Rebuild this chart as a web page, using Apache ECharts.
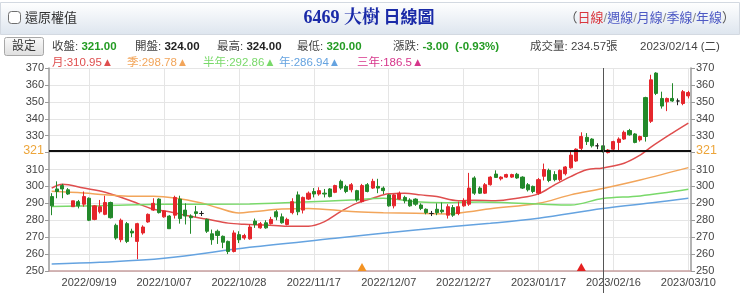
<!DOCTYPE html>
<html><head><meta charset="utf-8">
<script src="https://cdn.jsdelivr.net/npm/echarts@6/dist/echarts.min.js"></script>
<style>html,body{margin:0;padding:0;background:#fff}#c{width:740px;height:293px}</style>
</head><body><div id="c"></div>
<script>
// ---------- data ----------
const dates = [
'2022/09/07','2022/09/08','2022/09/12','2022/09/13','2022/09/14','2022/09/15','2022/09/16',
'2022/09/19','2022/09/20','2022/09/21','2022/09/22','2022/09/23','2022/09/26','2022/09/27','2022/09/28','2022/09/29','2022/09/30',
'2022/10/03','2022/10/04','2022/10/05','2022/10/06','2022/10/07','2022/10/11','2022/10/12','2022/10/13','2022/10/14',
'2022/10/17','2022/10/18','2022/10/19','2022/10/20','2022/10/21','2022/10/24','2022/10/25','2022/10/26','2022/10/27','2022/10/28',
'2022/10/31','2022/11/01','2022/11/02','2022/11/03','2022/11/04','2022/11/07','2022/11/08','2022/11/09','2022/11/10','2022/11/11',
'2022/11/14','2022/11/15','2022/11/16','2022/11/17','2022/11/18','2022/11/21','2022/11/22','2022/11/23','2022/11/24','2022/11/25',
'2022/11/28','2022/11/29','2022/11/30','2022/12/01','2022/12/02','2022/12/05','2022/12/06','2022/12/07','2022/12/08','2022/12/09',
'2022/12/12','2022/12/13','2022/12/14','2022/12/15','2022/12/16','2022/12/19','2022/12/20','2022/12/21','2022/12/22','2022/12/23',
'2022/12/26','2022/12/27','2022/12/28','2022/12/29','2022/12/30','2023/01/03','2023/01/04','2023/01/05','2023/01/06',
'2023/01/09','2023/01/10','2023/01/11','2023/01/12','2023/01/13','2023/01/16','2023/01/17','2023/01/30','2023/01/31',
'2023/02/01','2023/02/02','2023/02/03','2023/02/06','2023/02/07','2023/02/08','2023/02/09','2023/02/10',
'2023/02/13','2023/02/14','2023/02/15','2023/02/16','2023/02/17','2023/02/20','2023/02/21','2023/02/22','2023/02/23','2023/02/24',
'2023/03/01','2023/03/02','2023/03/03','2023/03/06','2023/03/07','2023/03/08','2023/03/09','2023/03/10'
];
// [open, close, low, high]
const ohlc = [
[294,288.5,283,296],[298.5,297,293,303],[300.5,298.5,293,301.5],[298,295.5,295,299],[288,291.5,288,291.5],
[291,288.5,287,292],[289.5,294,288,297],[293,280,279.5,293.5],[280.5,288.5,280,289],[285,288,284,292],
[283.5,290.5,283,294.5],[290.5,281.5,281,291],[277,269.5,268.5,278],[268.5,280,267,281],[278,267.5,266.5,279],
[273.5,272.5,270,275],[267.5,278,257,278.5],[272.5,276,271.5,277],[279,283.5,278.5,284],[286,290,285.5,293],
[292.5,284.5,284,293],[282,285.5,281.5,286],[282.5,275,275,283],[283,293.5,281,294.5],[292.5,281,278,294.5],
[286,282.5,277.5,290],[282.5,281.5,272,283.5],[285,284,282,288.5],[284,284,282.5,285.5],[280.5,273.5,272.5,281],
[272,268.5,265.5,274.5],[273.5,271,266,274.5],[270.5,267,263.5,271],[267.5,261.5,260,268],[261.5,272.5,261,274],
[271.5,268.5,266.5,273.5],[269.5,271,268.5,272],[269,276,268.5,277.5],[279.5,277.5,275.5,281],[275.5,278,275,279],
[278.5,275.5,275,280],[278,280.5,277.5,282],[285,282,280,286],[282,278.5,278,284],[277.5,280.5,277,281.5],
[284.5,291,283.5,293],[295,285,283,297],[286,293.5,284,294],[292.5,296,292,297],[297,295.5,293.5,299],
[295.5,297.5,294.5,299.5],[296,295.5,293.5,298.5],[298.5,294,293.5,299],[296.5,300.5,296,301],[303,299,298,304],
[300,297,296,301],[298,301,296.5,302],[297.5,292,291,298],[291,300.5,290.5,301.5],[301,297,296.5,302],
[299,303,298.5,304.5],[300,299,296,304.5],[299,297.5,295.5,300],[295,288.5,288,295.5],[288.5,295,287,295.5],
[292.5,296,292,297],[293.5,291.5,290,294.5],[292,288.5,288,293],[292.5,289.5,288.5,293],[289,287,286,290],
[286.5,284.5,283.5,287],[284,284,282.5,285.5],[286.5,284.5,283,290],[286,285,284,290.5],[283,288,281,289.5],
[287.5,283,282,289],[284,288,283,291],[288.5,291.5,288,293],[289.5,299,288.5,308],[305,296,295,306],
[299,296,295.5,300],[296,301,295.5,302],[301,305.5,300.5,306],[307.3,305.3,305,309.5],[304.5,305.5,303.5,306],
[305.5,307,305,307.5],[305.5,307,305,307.5],[307.2,305,304.5,308],[305.5,299,298.5,306],[301,298,297,302],
[300,297,296,300.5],[296,304,295,305],[306,310,303.5,313.5],[309.5,303.5,302.5,310.5],[307,304,303,309],
[304,309.5,303,310],[307.5,311.5,306.5,312],[311,318.5,310.5,320.5],[315,322,314.5,322.5],[322.5,329.5,321.5,332],
[329,326.5,324.5,331.5],[328,324,323,328.5],[324,324,322,325.5],[324,321,320,324],[320,321.5,319.5,322],
[322,326.5,321,327],[326,328,321.5,329],[328,332,327.5,333],[333,330.5,330,334],[331,326,325.5,331.5],
[327.5,329.5,326.5,330],[352.5,329.5,326.5,353],[338.5,363,337.5,366],[367,355,354,367.5],[352,347.5,346,356],
[350,352,344.5,352.5],[352,350.5,350,361],[350.5,350.5,348,352],[349,356,348,357],[353.5,355.5,352,356.5]
];
// moving averages: [day index, value]
const maMonth = [[0,299],[2,301.3],[6,299],[10,296.5],[15,291.2],[19,286.5],[22,285],[26,282.3],[29,280.7],[33,278.3],[36,277.6],[40,277.2],[44,276.4],[48,276.5],[51,279.2],[54,285.1],[57,290],[60,293],[63,295.6],[66,296],[69,295],[72,294],[76,291.6],[79,291.8],[83,291.5],[87,293],[91,295.6],[94,300.9],[97,305.8],[100,309.8],[103,310.95],[107,313.7],[110,318.5],[112,323.2],[116,331.5],[119,337.4]];
const maQuarter = [[0,297.1],[6,296.1],[10,295.1],[15,294.2],[19,294.2],[23,293.2],[28,290.2],[31,287.4],[35,284.3],[38,285.2],[43,286.6],[48,287],[56,285.1],[62,284.5],[68,284.1],[74,283.7],[78,285],[82,286.8],[91,290],[97,295],[103,298.78],[110,303.8],[119,311.1]];
const maHalf = [[0,288.2],[9,288.6],[21,289.4],[37,289.6],[46,290.6],[56,292],[62,293],[68,291],[74,290.4],[80,290.8],[86,290.2],[91,289.6],[97,289],[103,292.86],[110,294.4],[119,298.3]];
const maYear = [[0,254.1],[9,255.1],[21,257.5],[37,264],[53,269.3],[68,274.3],[82,278.2],[91,281.2],[103,286.94],[113,290.6],[119,293]];
const xTickLabels = ['2022/09/19','2022/10/07','2022/10/28','2022/11/17','2022/12/07','2022/12/27','2023/01/17','2023/02/16','2023/03/10'];
const yMin = 250, yMax = 370, yStep = 10;
const selDate = '2023/02/14';
const refPrice = 321;
const volume = '234.57';
const eventDates = ['2022/11/30','2023/02/08'];
const legendNames = ['月','季','半年','年','三年'];
const legendValues = ['310.95','298.78','292.86','286.94','186.5'];

// ---------- chart ----------
const chart = echarts.init(document.getElementById('c'), null, {renderer:'canvas'});
const CJK = "'Liberation Sans','Noto Sans CJK TC',sans-serif";
const UP = '#e5262c', DOWN = '#23892a', DOJI = '#222';
const maColors = ['#df4e4e','#f2a55a','#79d96a','#65a3e0','#d6358b'];
const selIdx = dates.indexOf(selDate);
const sel = ohlc[selIdx], prev = ohlc[selIdx-1];
const chg = sel[1] - prev[1];
const pct = chg / prev[1] * 100;

const candleData = ohlc.map(r => r[0] === r[1]
  ? {value:r, itemStyle:{color:DOJI,color0:DOJI,borderColor:DOJI,borderColor0:DOJI}}
  : r);

const showTick = (i, v) => xTickLabels.indexOf(v) >= 0;

const G = (s,c,w) => ({fill:c, fontFamily:CJK, fontSize:s, fontWeight:w||'normal'});
const grn = '#239b23';
const hdr = [
  {type:'rect', shape:{x:0.5,y:2.5,width:739,height:32},
   style:{fill:new echarts.graphic.LinearGradient(0,0,0,1,[{offset:0,color:'#ffffff'},{offset:1,color:'#dde5ee'}]), stroke:'#d3d9e1'}},
  {type:'rect', shape:{x:8.5,y:11.5,width:12,height:12,r:3}, style:{fill:'#fff', stroke:'#6f6f6f', lineWidth:1}},
  {type:'text', x:25, y:18, style:{text:'還原權值', ...G(13,'#333'), verticalAlign:'middle'}},
  {type:'text', x:369, y:18, style:{text:'{a|6469 大樹} {b|日線圖}', align:'center', verticalAlign:'middle',
     rich:{a:{fill:'#1a2aa8', fontFamily:"'Liberation Serif','Noto Serif CJK TC','Noto Sans CJK TC',serif", fontSize:18, fontWeight:'bold'},
           b:{fill:'#1a2aa8', fontFamily:CJK, fontSize:17, fontWeight:'bold'}}}},
  {type:'text', x:735, y:18, style:{text:'{p|（}{r|日線}{s|/}{b|週線}{s|/}{b|月線}{s|/}{b|季線}{s|/}{b|年線}{p|）}', align:'right', verticalAlign:'middle',
     rich:{p:G(13,'#555'), r:G(13,'#d9363e'), s:G(13,'#888'), b:G(13,'#4d59c4')}}},
  {type:'rect', shape:{x:4.5,y:37.5,width:39,height:18,r:2},
   style:{fill:new echarts.graphic.LinearGradient(0,0,0,1,[{offset:0,color:'#fbfbfb'},{offset:1,color:'#dedede'}]), stroke:'#a8a8a8'}},
  {type:'text', x:24, y:47, style:{text:'設定', ...G(12,'#333'), align:'center', verticalAlign:'middle'}},
];
const infoRow = [
  [52, '收盤', sel[1].toFixed(2), grn],
  [135, '開盤', sel[0].toFixed(2), '#222'],
  [217, '最高', sel[3].toFixed(2), '#222'],
  [297, '最低', sel[2].toFixed(2), grn],
  [393, '漲跌', chg.toFixed(2) + '  (' + pct.toFixed(2) + '%)', grn],
];
infoRow.forEach(([x, l, v, c]) => hdr.push({type:'text', x, y:46.5, style:{text:'{l|' + l + ': }{v|' + v + '}', verticalAlign:'middle',
  rich:{l:G(11.5,'#444'), v:G(11.5,c,'bold')}}}));
hdr.push({type:'text', x:530, y:46.5, style:{text:'成交量: ' + volume + '張', ...G(11.5,'#444'), verticalAlign:'middle'}});
hdr.push({type:'text', x:640, y:46.5, style:{text:selDate + ' (二)', ...G(11.5,'#444'), verticalAlign:'middle'}});
const legX = [52,127,203,279,357];
legendNames.forEach((n, i) => hdr.push({type:'text', x:legX[i], y:62.5,
  style:{text:n + ':' + legendValues[i] + '▲', ...G(11.5, maColors[i]), verticalAlign:'middle'}}));
hdr.forEach((e, i) => e.id = 'h' + i);

const maSeries = [maMonth, maQuarter, maHalf, maYear].map((d, i) => ({
  type:'line', data:d, smooth:0.35, showSymbol:false, silent:true, z:1,
  lineStyle:{color:maColors[i], width:1.5}
}));

const yAxisBase = (pos) => ({
  type:'value', min:yMin, max:yMax, interval:yStep, position:pos,
  axisLine:{show:true, lineStyle:{color:'#9a9a9a', width:1.5}},
  axisTick:{show:true, length:4, lineStyle:{color:'#9a9a9a'}},
  axisLabel:{color:'#444', fontSize:11, margin:5, fontFamily:CJK, formatter: v => v === 320 ? '' : String(v)},
  splitLine:{show:pos === 'left', lineStyle:{color:'#e5e5e5'}}
});

chart.setOption({
  animation:false,
  backgroundColor:'#fff',
  graphic:hdr,
  grid:{left:49, right:49, top:68, bottom:22, containLabel:false},
  xAxis:{type:'category', data:dates, boundaryGap:true,
    axisLine:{lineStyle:{color:'#c7a0a0', width:1.5}},
    axisTick:{show:false},
    axisLabel:{interval:showTick, color:'#444', fontSize:11, margin:6, fontFamily:CJK},
    splitLine:{show:true, interval:showTick, alignWithLabel:true, lineStyle:{color:'#e5e5e5'}}},
  yAxis:[yAxisBase('left'), yAxisBase('right')],
  series:[...maSeries, {
    type:'candlestick', data:candleData, barWidth:'68%', z:3,
    itemStyle:{color:UP, color0:DOWN, borderColor:UP, borderColor0:DOWN, borderWidth:1},
    markLine:{silent:true, symbol:'none', animation:false,
      lineStyle:{color:'#000', width:1.5, type:'solid'},
      label:{color:'#eda53a', fontSize:12.5, fontFamily:CJK, formatter:String(refPrice), distance:5},
      data:[{yAxis:refPrice, label:{position:'start'}}, {yAxis:refPrice, label:{position:'end'}}]},
    markPoint:{silent:true, symbol:'triangle', symbolSize:[9,8], symbolOffset:[0,-4], label:{show:false},
      data:[{coord:[eventDates[0], yMin], itemStyle:{color:'#f39323'}}, {coord:[eventDates[1], yMin], itemStyle:{color:'#e52020'}}]}
  }]
});

const px = chart.convertToPixel({xAxisIndex:0}, selDate);
chart.setOption({graphic:[{id:'cross', type:'line', shape:{x1:Math.round(px)+0.5, y1:68, x2:Math.round(px)+0.5, y2:293},
  style:{stroke:'#555', lineWidth:1}, z:10}]});
</script></body></html>
